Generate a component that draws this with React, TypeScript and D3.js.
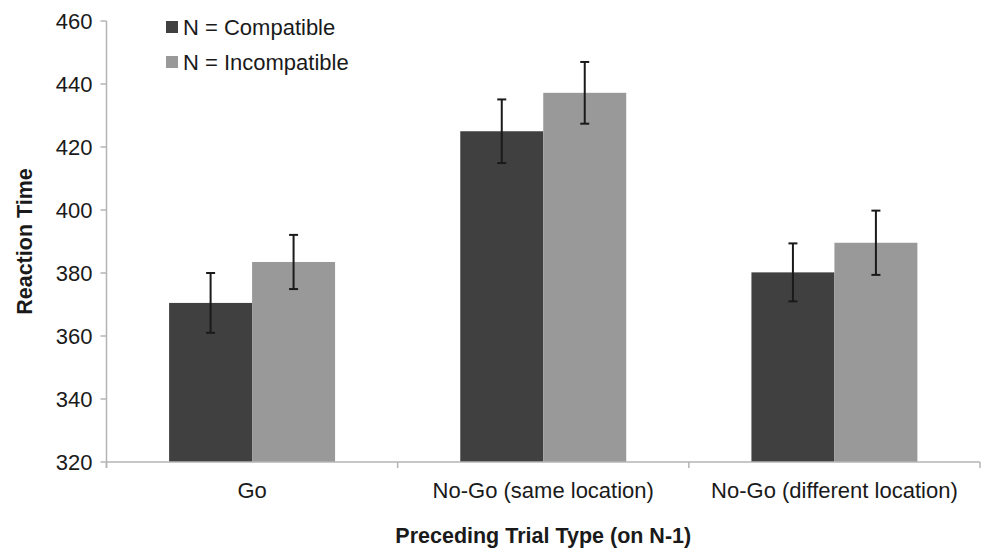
import { useEffect, useRef } from "react";
import * as d3 from "d3";

const categories = ["Go", "No-Go (same location)", "No-Go (different location)"];
const seriesNames = ["N = Compatible", "N = Incompatible"];
const seriesColors = ["#404040", "#999999"];
const compatibleMeans = [370.5, 425, 380.2];
const incompatibleMeans = [383.5, 437.2, 389.6];
const compatibleErr = [9.5, 10.1, 9.2];
const incompatibleErr = [8.6, 9.8, 10.2];
const yTicks = [320, 340, 360, 380, 400, 420, 440, 460];

const W = 982;
const H = 549;
const FONT = "'Liberation Sans', Arial, sans-serif";

const App = () => {
  const ref = useRef<SVGSVGElement>(null);

  useEffect(() => {
    const svg = d3.select(ref.current);
    svg.selectAll("*").remove();

    const left = 106.5,
      right = 980,
      top = 21,
      bottom = 462;

    const x = d3
      .scaleBand()
      .domain(categories)
      .range([left, right])
      .paddingInner(0.43)
      .paddingOuter(0.215);
    const xs = d3.scaleBand().domain(seriesNames).range([0, x.bandwidth()]);
    const y = d3.scaleLinear().domain([320, 460]).range([bottom, top]);

    const rows = categories.map((c, i) => ({
      cat: c,
      vals: [
        { s: seriesNames[0], v: compatibleMeans[i], e: compatibleErr[i], col: seriesColors[0] },
        { s: seriesNames[1], v: incompatibleMeans[i], e: incompatibleErr[i], col: seriesColors[1] },
      ],
    }));

    // bars
    const g = svg
      .append("g")
      .selectAll("g")
      .data(rows)
      .enter()
      .append("g")
      .attr("transform", (d) => "translate(" + x(d.cat) + ",0)");

    g.selectAll("rect")
      .data((d) => d.vals)
      .enter()
      .append("rect")
      .attr("x", (d) => xs(d.s)!)
      .attr("width", xs.bandwidth())
      .attr("y", (d) => y(d.v))
      .attr("height", (d) => bottom - y(d.v))
      .attr("fill", (d) => d.col);

    // axes
    const axisColor = "#b4b4b4";
    svg
      .append("line")
      .attr("x1", left)
      .attr("x2", left)
      .attr("y1", top)
      .attr("y2", bottom + 6)
      .attr("stroke", axisColor)
      .attr("stroke-width", 1.5);
    svg
      .append("line")
      .attr("x1", left)
      .attr("x2", right)
      .attr("y1", bottom)
      .attr("y2", bottom)
      .attr("stroke", axisColor)
      .attr("stroke-width", 1.5);

    const step = x.step();
    const bounds = [0, 1, 2, 3].map((i) => left + i * step);
    svg
      .append("g")
      .selectAll("line")
      .data(bounds)
      .enter()
      .append("line")
      .attr("x1", (d) => d)
      .attr("x2", (d) => d)
      .attr("y1", bottom)
      .attr("y2", bottom + 6)
      .attr("stroke", axisColor)
      .attr("stroke-width", 1.5);

    svg
      .append("g")
      .selectAll("line")
      .data(yTicks)
      .enter()
      .append("line")
      .attr("x1", left - 6)
      .attr("x2", left)
      .attr("y1", (d) => y(d))
      .attr("y2", (d) => y(d))
      .attr("stroke", axisColor)
      .attr("stroke-width", 1.5);

    svg
      .append("g")
      .selectAll("text")
      .data(yTicks)
      .enter()
      .append("text")
      .attr("x", left - 14)
      .attr("y", (d) => y(d))
      .attr("dy", "0.35em")
      .attr("text-anchor", "end")
      .attr("fill", "#1a1a1a")
      .style("font", "22px " + FONT)
      .text((d) => d);

    svg
      .append("g")
      .selectAll("text")
      .data(categories)
      .enter()
      .append("text")
      .attr("x", (d) => x(d)! + x.bandwidth() / 2)
      .attr("y", 498)
      .attr("text-anchor", "middle")
      .attr("fill", "#1a1a1a")
      .style("font", "22px " + FONT)
      .text((d) => d);

    // error bars
    const eb = g
      .selectAll("g.err")
      .data((d) => d.vals)
      .enter()
      .append("g")
      .attr("class", "err")
      .attr("stroke", "#1a1a1a")
      .attr("stroke-width", 2);
    const cx = (d: any) => xs(d.s)! + xs.bandwidth() / 2;
    eb.append("line")
      .attr("x1", cx)
      .attr("x2", cx)
      .attr("y1", (d) => y(d.v + d.e))
      .attr("y2", (d) => y(d.v - d.e));
    eb.append("line")
      .attr("x1", (d) => cx(d) - 4.5)
      .attr("x2", (d) => cx(d) + 4.5)
      .attr("y1", (d) => y(d.v + d.e))
      .attr("y2", (d) => y(d.v + d.e));
    eb.append("line")
      .attr("x1", (d) => cx(d) - 4.5)
      .attr("x2", (d) => cx(d) + 4.5)
      .attr("y1", (d) => y(d.v - d.e))
      .attr("y2", (d) => y(d.v - d.e));

    // legend
    const lg = svg
      .append("g")
      .selectAll("g")
      .data(seriesNames)
      .enter()
      .append("g")
      .attr("transform", (d, i) => "translate(166," + (27 + i * 35) + ")");
    lg.append("rect")
      .attr("x", 0)
      .attr("y", -6)
      .attr("width", 12)
      .attr("height", 12)
      .attr("fill", (d, i) => seriesColors[i]);
    lg.append("text")
      .attr("x", 17)
      .attr("dy", "0.35em")
      .attr("fill", "#1a1a1a")
      .style("font", "22px " + FONT)
      .text((d) => d);

    // titles
    svg
      .append("text")
      .attr("x", (left + right) / 2)
      .attr("y", 543)
      .attr("text-anchor", "middle")
      .attr("fill", "#1a1a1a")
      .style("font", "bold 21.5px " + FONT)
      .text("Preceding Trial Type (on N-1)");
    svg
      .append("text")
      .attr("transform", "translate(32," + (top + bottom) / 2 + ") rotate(-90)")
      .attr("text-anchor", "middle")
      .attr("fill", "#1a1a1a")
      .style("font", "bold 21.5px " + FONT)
      .text("Reaction Time");
  }, []);

  return (
    <svg
      ref={ref}
      width={W}
      height={H}
      style={{ position: "absolute", left: 0, top: 0, background: "#fff" }}
    />
  );
};

export default App;
